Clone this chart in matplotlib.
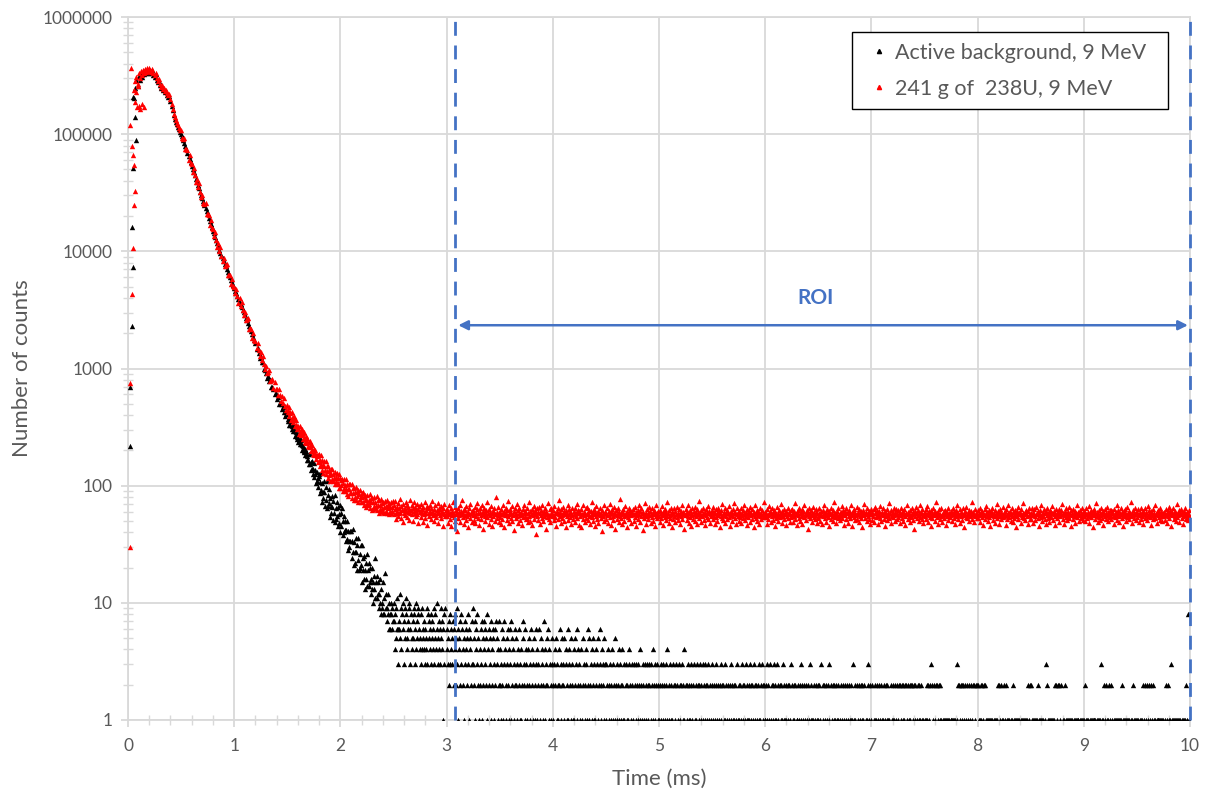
import numpy as np
import matplotlib
matplotlib.use('Agg')
import matplotlib.pyplot as plt
from matplotlib.lines import Line2D
from matplotlib.ticker import LogLocator, MultipleLocator, NullFormatter

plt.rcParams['font.family'] = ['Lato', 'DejaVu Sans']

# ---------------- data ----------------
# decay, 0.10 - 1.49 ms, 0.01 ms per value, one row = 0.1 ms
red_decay_rows = [
    "330000 300000 345000 320000 355000 335000 360000 340000 365000 345000",
    "370000 350000 340000 360000 330000 320000 335000 300000 285000 295000",
    "270000 255000 265000 245000 250000 235000 240000 225000 215000 220000",
    "200000 180000 165000 150000 140000 132000 125000 119000 113000 108000",
    "109400 92000 91700 92900 74300 74300 73200 60100 66200 56400",
    "55600 48000 51800 45000 38800 41600 35700 38400 32000 28900",
    "30500 25700 25600 25900 20700 20700 20400 16700 18500 15700",
    "15500 13400 14500 12600 10900 11700 9980 10800 9080 8260",
    "8840 7510 7580 7750 6280 6340 6310 5230 5840 5020",
    "5010 4370 4760 4190 3650 3960 3430 3730 3150 2870",
    "3060 2600 2630 2690 2180 2200 2180 1810 2020 1740",
    "1730 1510 1650 1450 1270 1380 1190 1290 1090 1000",
    "1060 912 930 962 789 805 811 682 768 668",
    "674 599 663 592 524 578 509 562 482 446",
]
black_decay_rows = [
    "315000 290000 330000 310000 340000 325000 350000 330000 355000 335000",
    "360000 340000 330000 350000 320000 310000 325000 290000 280000 285000",
    "262000 250000 255000 238000 242000 228000 232000 218000 208000 212000",
    "192000 175000 160000 146000 136000 128000 121000 115000 110000 105000",
    "101000 95800 89900 84300 79100 74200 69700 65300 61300 57500",
    "54000 50600 47500 44600 41800 39200 36800 34500 32400 30400",
    "28500 26700 25000 23600 22100 20700 19400 18200 17100 16000",
    "15000 14200 13300 12500 11700 11000 10300 9700 9180 8700",
    "8260 7830 7430 7040 6680 6340 6010 5690 5410 5130",
    "4860 4600 4370 4150 3930 3730 3530 3360 3180 3020",
    "2860 2710 2570 2440 2310 2190 2070 1960 1860 1760",
    "1637 1469 1500 1349 1219 1257 1128 1141 984 980",
    "907 828 858 776 795 690 694 667 604 618",
    "554 572 501 508 494 450 466 426 392 410",
]

# late decay, 1.50 - 2.49 ms, 0.005 ms per value, one row = 0.1 ms
red_late_rows = [
    "484 427 445 472 395 413 425 366 423 376 388 351 396 360 325 364 327 367 321 303",
    "313 323 278 322 287 297 270 305 278 251 282 253 286 251 237 263 232 242 257 216",
    "234 212 240 218 198 222 200 224 197 186 207 182 191 203 170 178 184 158 183 163",
    "186 148 167 152 182 137 165 149 129 163 147 135 162 125 146 134 148 117 135 123",
    "126 110 140 127 115 139 109 127 116 130 103 119 109 129 103 116 105 127 96 116",
    "95 111 102 114 90 105 96 113 90 102 93 113 85 103 93 82 103 94 86 103",
    "86 104 78 95 86 76 96 88 80 97 76 89 81 92 72 85 77 91 72 82",
    "87 80 73 88 69 81 75 83 66 77 71 84 68 76 70 85 64 78 72 62",
    "78 63 73 67 80 64 73 67 81 62 75 68 59 76 69 63 77 61 71 65",
    "60 72 66 58 74 67 61 75 59 69 64 71 57 66 61 73 59 66 61 74",
]
black_late_rows = [
    "406 359 371 389 329 355 331 361 307 323 334 295 298 322 265 292 272 286 252 260",
    "276 234 247 254 225 228 246 202 223 207 218 192 199 205 181 187 197 167 179 166",
    "188 153 186 154 136 160 138 162 126 140 156 118 126 135 105 132 110 117 98 122",
    "126 86 108 91 129 73 105 88 78 110 88 67 98 76 109 64 84 67 94 71",
    "54 78 67 58 82 66 51 74 58 84 49 65 52 73 55 66 45 57 48 68",
    "40 58 45 65 38 50 40 55 42 50 34 42 35 50 28 41 34 30 41 34",
    "41 24 34 27 43 21 33 27 22 36 27 19 31 23 36 19 26 20 31 21",
    "31 15 24 19 16 25 19 13 22 16 26 14 19 14 22 15 20 12 16 13",
    "20 15 10 17 13 24 11 15 11 17 12 15 9 12 10 16 8 13 10 9",
    "15 8 11 8 18 9 12 7 9 8 12 6 10 8 6 10 8 6 9 7",
]

# first bins, where both runs rise (time in ms, counts)
red_early_t = [0.020, 0.022, 0.035, 0.045, 0.055, 0.065, 0.060, 0.050, 0.040, 0.020,
               0.025, 0.060, 0.070, 0.080, 0.090, 0.065, 0.075, 0.085, 0.095, 0.105,
               0.115, 0.135, 0.155]
red_early = [30, 750, 4300, 10600, 24700, 33000, 55000, 66000, 80000, 120000,
             365000, 240000, 285000, 310000, 270000, 190000, 230000, 170000, 260000, 175000,
             165000, 180000, 170000]
black_early_t = [0.018, 0.020, 0.035, 0.045, 0.040, 0.050, 0.080, 0.065, 0.050,
                 0.060, 0.070, 0.080, 0.090]
black_early = [220, 700, 2300, 7400, 16000, 51000, 89000, 140000, 208000,
               205000, 250000, 290000, 260000]

# 238U run, flat part 2.50 - 9.99 ms, 0.005 ms per value, one row = 0.25 ms
red_flat_rows = [
    "68 57 63 74 59 52 66 61 71 55 64 58 77 60 53 67 62 49 70 63 58 65 56 72 61 54 69 60 66 51 63 75 58 62 57 68 64 50 61 73 59 66 55 62 70 57 63 48 67 60",
    "61 54 70 58 63 49 66 57 60 72 53 62 58 67 46 64 59 55 69 61 52 65 58 74 56 60 50 63 68 57 54 62 59 71 48 65 60 56 63 53 67 58 61 45 64 57 70 55 62 59",
    "55 63 48 60 57 69 52 58 64 45 61 56 72 54 59 50 66 57 62 41 58 65 53 60 56 68 49 61 57 76 54 59 63 47 56 62 51 67 58 55 60 44 64 57 53 70 58 61 49 56",
    "62 51 57 66 48 59 55 63 71 53 58 46 60 65 56 52 68 57 61 43 59 64 55 50 62 57 73 54 58 47 63 56 60 52 67 58 45 61 55 64 59 50 57 80 53 60 56 66 49 58",
    "54 60 47 63 57 52 69 58 61 44 56 65 59 51 62 55 74 57 48 60 63 53 58 67 50 56 61 42 64 57 59 53 70 55 62 48 58 65 56 51 60 57 46 63 54 68 59 55 61 52",
    "59 53 64 49 58 72 55 61 50 57 63 46 60 56 67 52 58 62 39 57 64 55 51 60 66 58 47 62 56 53 69 59 50 61 55 64 57 43 60 54 58 71 52 56 63 49 59 65 55 57",
    "56 62 51 67 54 59 45 61 58 64 52 57 75 55 60 48 63 56 53 66 58 50 61 57 44 62 59 55 68 51 57 63 54 60 47 58 65 56 52 61 57 49 64 59 55 70 53 58 62 46",
    "61 55 58 44 63 57 52 69 56 60 49 58 64 53 57 66 51 59 62 55 47 61 56 73 54 58 50 63 57 45 60 55 67 52 58 61 48 57 64 56 53 59 41 62 57 55 68 50 58 60",
    "52 59 65 56 48 61 57 54 70 58 46 60 63 55 51 66 57 59 43 62 56 52 64 58 49 60 55 77 57 53 61 47 58 63 55 50 67 56 59 44 61 57 54 65 52 58 62 48 56 60",
    "58 63 50 57 66 54 60 45 59 56 62 52 68 57 49 61 55 64 58 42 60 56 53 71 57 59 47 63 55 58 52 66 56 61 48 57 64 54 59 50 62 57 45 60 55 69 53 58 61 56",
    "55 49 62 58 53 67 56 60 46 61 57 54 63 51 58 72 55 59 48 62 56 53 65 57 44 60 58 52 64 55 61 49 57 66 54 59 51 63 56 58 47 61 55 68 52 57 60 43 59 56",
    "63 57 51 60 55 69 48 58 62 54 59 45 64 56 52 61 57 66 50 58 55 63 47 60 57 53 74 56 59 49 62 55 58 64 51 57 60 46 63 56 54 59 67 52 58 61 48 57 55 62",
    "57 52 66 55 60 47 58 63 54 59 50 65 56 61 44 58 55 62 53 70 57 51 60 56 64 48 59 55 62 52 58 67 54 57 45 61 56 59 50 63 55 58 71 53 60 47 57 64 55 59",
    "50 61 57 54 64 48 59 56 62 53 68 57 51 60 55 46 63 58 54 61 57 66 49 59 56 52 63 57 44 60 55 69 53 58 62 50 56 61 57 47 64 55 59 52 62 57 54 73 56 58",
    "60 54 58 47 63 56 52 67 57 61 49 58 55 64 51 59 62 56 45 60 57 53 66 55 58 50 62 57 54 70 56 48 61 58 55 63 52 59 57 46 61 55 65 53 58 60 49 57 62 54",
    "56 63 49 58 61 55 71 52 57 60 46 62 56 53 65 58 50 59 55 63 47 57 61 54 68 56 59 51 62 57 43 60 55 64 53 58 56 62 49 57 66 54 60 56 52 59 63 48 58 55",
    "53 59 64 56 50 61 57 47 62 55 58 68 53 57 60 49 63 56 54 59 45 61 57 65 52 58 55 62 50 57 72 54 59 56 48 61 57 53 64 55 58 51 60 56 67 53 57 62 46 59",
    "61 56 52 65 58 48 60 55 62 57 53 69 56 59 45 61 57 54 63 51 58 56 66 52 60 57 49 63 55 59 53 61 57 44 62 56 58 70 53 57 60 50 64 55 58 52 61 57 47 63",
    "57 51 60 55 63 49 58 66 54 59 56 62 47 58 55 61 53 67 57 50 60 56 64 52 58 45 61 57 55 63 51 59 56 71 53 58 62 48 57 55 60 54 65 56 50 59 57 63 52 58",
    "54 62 57 48 60 56 65 53 58 61 50 57 63 55 46 59 57 68 52 60 55 58 49 62 56 54 64 57 51 60 58 43 61 55 66 53 59 56 62 50 57 69 54 58 60 52 63 56 48 59",
    "60 55 63 52 57 67 49 59 56 61 54 58 45 62 57 53 64 56 59 50 61 57 72 54 58 47 60 56 63 52 57 55 65 49 59 56 61 53 58 62 46 57 60 55 64 51 58 57 54 61",
    "56 59 50 64 57 53 61 47 58 55 62 57 69 52 59 56 48 63 55 60 57 51 65 56 58 44 61 57 54 66 53 59 56 62 50 58 55 61 57 73 52 58 60 49 56 63 55 59 53 57",
    "62 53 58 56 65 49 60 57 54 61 46 59 56 63 52 58 67 55 60 50 57 62 54 59 45 61 56 58 64 51 57 55 62 48 59 56 70 53 58 61 55 47 63 57 52 60 56 66 54 58",
    "55 61 57 46 63 56 52 59 68 54 58 61 50 57 55 64 49 60 56 53 62 57 59 44 61 55 66 52 58 57 60 48 63 56 54 59 71 53 57 60 51 58 62 55 47 61 56 64 52 57",
    "58 52 64 56 60 48 57 63 55 51 66 57 59 53 61 45 58 56 62 54 69 57 50 60 55 63 52 58 47 61 56 65 53 59 57 49 62 55 60 54 58 67 51 57 61 55 46 63 56 59",
    "53 60 56 63 49 58 55 62 57 70 52 59 56 47 61 57 54 64 51 58 60 55 66 53 57 45 62 56 59 52 63 57 55 61 48 58 56 68 54 60 57 50 62 56 53 59 65 55 58 51",
    "61 55 59 50 64 57 53 60 56 67 48 58 55 62 54 59 57 44 61 56 63 52 58 71 55 60 49 57 62 54 58 51 65 56 59 53 61 46 57 63 55 58 52 66 56 60 50 57 54 62",
    "56 62 52 58 61 55 47 63 57 54 60 56 68 51 58 62 55 49 59 57 64 53 60 56 45 61 58 55 63 50 57 66 54 59 56 61 52 58 72 55 57 48 62 56 59 53 64 57 51 58",
    "59 54 63 57 49 60 56 65 52 58 55 61 47 59 57 64 53 56 60 51 67 55 58 62 54 57 46 61 56 59 52 63 55 58 69 53 57 60 48 62 56 54 59 65 51 57 61 55 50 58",
    "55 60 57 51 63 56 59 48 61 55 66 53 58 62 57 45 60 56 64 52 59 55 61 50 57 70 54 58 56 62 49 59 57 63 53 60 55 47 61 58 56 65 52 57 60 54 59 51 62 56",
]

# background run, tail 2.50 - 9.99 ms, 0.005 ms per bin,
# one hex digit per bin (0 = empty bin), one row = 0.25 ms
black_tail_rows = [
    "7a48596b3676c5948a637598b54679a368457589364a758964",
    "53849654736459385746385746395846a537463957461839",
    "46352738465372648259361457283642517364528316452739",
    "32517463825142637152473625184625317426531627354172",
    "24136251734215362416317254312652314062134125732614",
    "32140253162413502163142361052431270413252614302153",
    "21304251321426031523215034121634021523141250316240",
    "31204152302143012615230145213014230512632104321530",
    "13204120312041302152310241302142013102312013402103",
    "21032013201302410213201302130212301302142031020312",
    "12031021302102314021301201032021302013021023012140",
    "20120321013201203102130201203120132031201203102013",
    "20102102301201021302021031201021020130210120210301",
    "12021030120213012102130210213021020120131020312021",
    "12013021030120213012103021020120130121021021020130",
    "20102102011020120310201201020102103012011201020102",
    "10201030120201201020130201020120102101200120102010",
    "20102012010120130102102010201020120102010102301020",
    "10201012010210201020101201020120101020101201020102",
    "10202102012012020102102102021020120102021010201010",
    "10101202012030201020120201020120101010100101010101",
    "10101010100132021020120201020120102010201202010202",
    "20101012020120201010101010101001010101202010201010",
    "20102010101010010210101010101001010101010101020102",
    "02010101011010201010101010103020101010101010102020",
    "10202010201010201010101010101001010101011010101010",
    "10201010100101010101101010101010301010201020101020",
    "10201010101010101010102010101010101010100102010101",
    "01010101010201020102010201020102010101011010101010",
    "10102010201010301010101010101010101010100102010810",
]

y_ticks = [1, 10, 100, 1000, 10000, 100000, 1000000]
y_tick_labels = ['1', '10', '100', '1000', '10000', '100000', '1000000']
x_ticks = [0, 1, 2, 3, 4, 5, 6, 7, 8, 9, 10]

roi_start = 3.08
roi_end = 10.0
roi_level = 2340
roi_label_pos = (6.47, 3990)

labels = ['Active background, 9 MeV  ', '241 g of  238U, 9 MeV  ']


# ---------------- unpack the rows ----------------
def rows_to_points(rows, start, row_len, step, hexdigits=False):
    tt, vv = [], []
    for r, row in enumerate(rows):
        vals = [int(c, 16) for c in row] if hexdigits else [float(v) for v in row.split()]
        for i, v in enumerate(vals):
            if v > 0:
                tt.append(start + r * row_len + i * step)
                vv.append(v)
    return tt, vv


rt1, rv1 = rows_to_points(red_decay_rows, 0.10, 0.1, 0.01)
rt2, rv2 = rows_to_points(red_late_rows, 1.50, 0.1, 0.005)
rt3, rv3 = rows_to_points(red_flat_rows, 2.50, 0.25, 0.005)
bt1, bv1 = rows_to_points(black_decay_rows, 0.10, 0.1, 0.01)
bt2, bv2 = rows_to_points(black_late_rows, 1.50, 0.1, 0.005)
bt3, bv3 = rows_to_points(black_tail_rows, 2.50, 0.25, 0.005, hexdigits=True)

red_t = red_early_t + rt1 + rt2 + rt3
red_v = red_early + rv1 + rv2 + rv3
black_t = black_early_t + bt1 + bt2 + bt3
black_v = black_early + bv1 + bv2 + bv3

# ---------------- plot ----------------
grid_col = '#d9d9d9'
text_col = '#595959'
roi_col = '#4472c4'

fig = plt.figure(figsize=(12.1, 7.96), dpi=100)
ax = fig.add_axes([128 / 1210, 76 / 796, 1062 / 1210, 703 / 796])

ax.scatter(black_t, black_v, marker='^', s=15, color='black', linewidths=0, zorder=3)
ax.scatter(red_t, red_v, marker='^', s=15, color='#ff0000', linewidths=0, zorder=4)

ax.set_yscale('log')
ax.set_xlim(0, 10)
ax.set_ylim(1, 1e6)
ax.set_yticks(y_ticks)
ax.set_yticklabels(y_tick_labels)
ax.yaxis.set_minor_locator(LogLocator(base=10, subs=np.arange(2, 10)))
ax.yaxis.set_minor_formatter(NullFormatter())
ax.set_xticks(x_ticks)
ax.xaxis.set_minor_locator(MultipleLocator(0.2))

ax.grid(which='major', color=grid_col, lw=1.3, zorder=0)
ax.set_axisbelow(True)
for s in ax.spines.values():
    s.set_color(grid_col)
    s.set_linewidth(1.3)
ax.tick_params(which='major', direction='out', length=5, width=1.3, color=grid_col,
               labelcolor=text_col, labelsize=12.5, pad=6)
ax.tick_params(axis='x', which='major', pad=8)
ax.tick_params(which='minor', direction='inout', length=7, width=1.0, color=grid_col)

ax.set_xlabel('Time (ms)', fontsize=16, color=text_col, labelpad=11)
ax.set_ylabel('Number of counts', fontsize=16, color=text_col, labelpad=8)

# region of interest
for xv in (roi_start, roi_end):
    ax.axvline(xv, color=roi_col, lw=2, ls=(0, (5, 3.5)), zorder=5, clip_on=False)
ax.annotate('', xy=(roi_start + 0.03, roi_level), xytext=(roi_end - 0.02, roi_level),
            arrowprops=dict(arrowstyle='<|-|>', color=roi_col, lw=1.8, mutation_scale=14,
                            shrinkA=0, shrinkB=0), zorder=6)
ax.text(roi_label_pos[0], roi_label_pos[1], 'ROI', color=roi_col, fontsize=15,
        fontweight='bold', ha='center', va='center')

handles = [Line2D([], [], ls='none', marker='^', ms=3, color='black'),
           Line2D([], [], ls='none', marker='^', ms=3, color='#ff0000')]
leg = ax.legend(handles, labels, loc='upper right', bbox_to_anchor=(0.979, 0.979),
                fancybox=False, framealpha=1, edgecolor='black', fontsize=15.5,
                labelcolor=text_col, handlelength=1.5, handletextpad=0.0,
                borderpad=0.5, labelspacing=0.75, borderaxespad=0)
leg.get_frame().set_linewidth(1.0)
leg.set_zorder(10)

fig.savefig('out.png', dpi=100)
